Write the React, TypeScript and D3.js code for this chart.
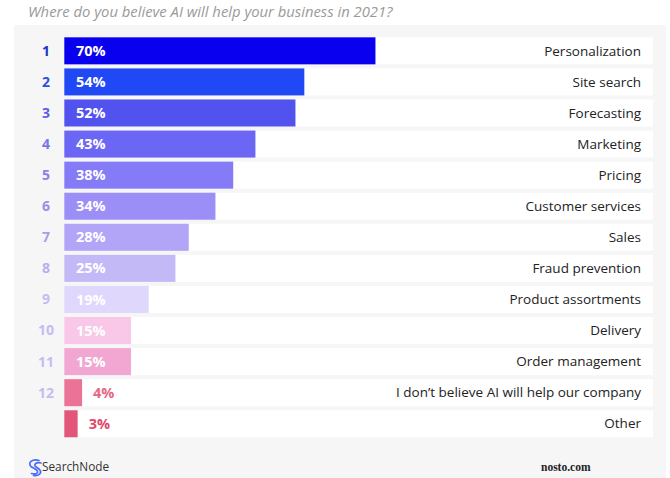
import React from "react";
import * as d3 from "d3";

const categories = [
  "Personalization",
  "Site search",
  "Forecasting",
  "Marketing",
  "Pricing",
  "Customer services",
  "Sales",
  "Fraud prevention",
  "Product assortments",
  "Delivery",
  "Order management",
  "I don\u2019t believe AI will help our company",
  "Other",
];
const values = [70, 54, 52, 43, 38, 34, 28, 25, 19, 15, 15, 4, 3];
const ranks = ["1", "2", "3", "4", "5", "6", "7", "8", "9", "10", "11", "12", ""];
const barColors = [
  "#0a00f0", "#2148f5", "#5252ef", "#6c66f4", "#857bf7", "#9b8ef6", "#b2a4f6",
  "#c4b9f7", "#dfd8fc", "#f9c8e9", "#f2a7d2", "#eb7398", "#e2567a",
];
const rankColors = [
  "#2233cc", "#2f4fd9", "#5a5fe0", "#7a75e6", "#8b80ea", "#9a8ee8", "#a99ee9",
  "#b8aef0", "#c5bdf2", "#c5bdf2", "#c5bdf2", "#c5bdf2", "#c5bdf2",
];
const outsideLabelColors = ["#e46688", "#e0476b"];
const title = "Where do you believe AI will help your business in 2021?";

const W = 670;
const H = 478;
const FONT = "'Open Sans', 'Noto Sans', sans-serif";

export default function App() {
  const x = d3.scaleLinear().domain([0, 100]).range([64.3, 64.3 + 444.5]);
  const y = d3
    .scaleBand<string>()
    .domain(categories)
    .range([35.3, 439.3])
    .paddingInner(0.13)
    .paddingOuter(0.065);
  const bh = y.bandwidth();

  return (
    <svg
      width={W}
      height={H}
      style={{ position: "absolute", left: 0, top: 0, background: "#fff" }}
    >
      <rect x={0} y={0} width={W} height={H} fill="#fff" />
      <text
        x={28}
        y={17}
        fontFamily={FONT}
        fontStyle="italic"
        fontSize={14.8}
        fill="#9a9a9a"
      >
        {title}
      </text>
      <rect x={14} y={25} width={652} height={H - 25} fill="#f6f6f6" />
      {categories.map((c, i) => {
        const yy = y(c)!;
        const inside = values[i] >= 10;
        return (
          <g key={c}>
            <rect x={x(0)} y={yy} width={653 - x(0)} height={bh} fill="#ffffff" />
            <rect
              x={x(0)}
              y={yy}
              width={x(values[i]) - x(0)}
              height={bh}
              fill={barColors[i]}
            />
            <text
              x={46}
              y={yy + bh / 2}
              dy="0.35em"
              textAnchor="middle"
              fontFamily={FONT}
              fontWeight={700}
              fontSize={14}
              fill={rankColors[i]}
            >
              {ranks[i]}
            </text>
            <text
              x={inside ? 76 : x(values[i]) + 11}
              y={yy + bh / 2}
              dy="0.35em"
              fontFamily={FONT}
              fontWeight={700}
              fontSize={14.5}
              fill={inside ? "#ffffff" : outsideLabelColors[i - 11]}
            >
              {values[i] + "%"}
            </text>
            <text
              x={641}
              y={yy + bh / 2}
              dy="0.35em"
              textAnchor="end"
              fontFamily={FONT}
              fontSize={13.5}
              fill="#222"
            >
              {c}
            </text>
          </g>
        );
      })}
      <g transform="translate(28,459)">
        <path
          d="M11 1.5 C4 -0.5 -0.5 4 3 7.5 L8 10.5 C11.5 13 9 16 3.5 14.5 M13 4 C8.5 3 5.5 5 7.5 7.5 L11.5 10.5 C14.5 13.5 11 17.5 5.5 16.5"
          fill="none"
          stroke="#4a6cf7"
          strokeWidth={1.7}
          strokeLinecap="round"
        />
      </g>
      <text
        x={42}
        y={467}
        dy="0.35em"
        fontFamily={FONT}
        fontSize={11.8}
        fill="#333"
      >
        SearchNode
      </text>
      <text
        x={541}
        y={467}
        dy="0.35em"
        fontFamily="'Liberation Serif', 'DejaVu Serif', serif"
        fontSize={11.5}
        fontWeight={700}
        fill="#222"
      >
        nosto.com
      </text>
    </svg>
  );
}
